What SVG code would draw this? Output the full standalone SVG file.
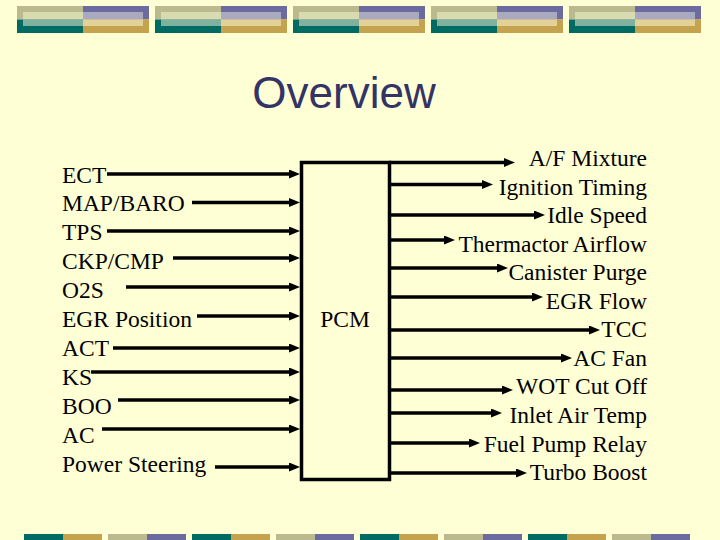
<svg xmlns="http://www.w3.org/2000/svg" width="720" height="540" viewBox="0 0 720 540">
<defs>
<style>
.t{font-family:"Liberation Serif","Times New Roman",serif;font-size:23.5px;fill:#000}
.r{text-anchor:end}
.ln{stroke:#000;stroke-width:3.5;fill:none;marker-end:url(#ah)}
.kh{fill:#BABA8E}.pu{fill:#6B6BA0}.te{fill:#006B62}.go{fill:#C5A24E}
.lkh{fill:#D8DBAF}.lpu{fill:#A9A9BF}.lte{fill:#80B09E}.lgo{fill:#E2D298}
</style>
<marker id="ah" markerUnits="userSpaceOnUse" markerWidth="12" markerHeight="10" refX="5" refY="4.5" orient="auto">
<path d="M0,0 L11,4.5 L0,9 z" fill="#000"/>
</marker>
<g id="tb">
<rect x="0" y="6" width="66" height="13.5" class="kh"/>
<rect x="66" y="6" width="66" height="13.5" class="pu"/>
<rect x="0" y="19.5" width="66" height="13.5" class="te"/>
<rect x="66" y="19.5" width="66" height="13.5" class="go"/>
<rect x="6" y="12" width="60" height="7.5" class="lkh"/>
<rect x="66" y="12" width="60" height="7.5" class="lpu"/>
<rect x="6" y="19.5" width="60" height="6.5" class="lte"/>
<rect x="66" y="19.5" width="60" height="6.5" class="lgo"/>
</g>
<g id="b1"><rect x="0" y="534" width="39" height="6" class="te"/><rect x="39" y="534" width="39" height="6" class="go"/></g>
<g id="b2"><rect x="0" y="534" width="39" height="6" class="kh"/><rect x="39" y="534" width="39" height="6" class="pu"/></g>
</defs>
<rect width="720" height="540" fill="#FFFFD6"/>
<g id="banner-top">
<use href="#tb" x="17"/><use href="#tb" x="155"/><use href="#tb" x="293"/><use href="#tb" x="431"/><use href="#tb" x="569"/>
</g>
<g id="banner-bottom">
<use href="#b1" x="24"/><use href="#b2" x="108"/><use href="#b1" x="192"/><use href="#b2" x="276"/>
<use href="#b1" x="360"/><use href="#b2" x="444"/><use href="#b1" x="528"/><use href="#b2" x="612"/>
</g>
<text id="title" x="344" y="108" text-anchor="middle" font-family="Liberation Sans, Arial, sans-serif" font-size="44" fill="#333366">Overview</text>
<g id="pcm">
<rect x="301.5" y="162.5" width="88" height="317" fill="none" stroke="#000" stroke-width="3.5"/>
<text class="t" x="345" y="327" text-anchor="middle">PCM</text>
</g>
<g id="inputs">
<text class="t" x="62" y="182.5">ECT</text>
<text class="t" x="62" y="211.4">MAP/BARO</text>
<text class="t" x="62" y="240.3">TPS</text>
<text class="t" x="62" y="269.2">CKP/CMP</text>
<text class="t" x="62" y="298.1">O2S</text>
<text class="t" x="62" y="327">EGR Position</text>
<text class="t" x="62" y="355.9">ACT</text>
<text class="t" x="62" y="384.8">KS</text>
<text class="t" x="62" y="413.7">BOO</text>
<text class="t" x="62" y="442.6">AC</text>
<text class="t" x="62" y="471.5">Power Steering</text>
</g>
<g id="outputs">
<text class="t r" x="647" y="166">A/F Mixture</text>
<text class="t r" x="647" y="194.5">Ignition Timing</text>
<text class="t r" x="647" y="223.1">Idle Speed</text>
<text class="t r" x="647" y="251.6">Thermactor Airflow</text>
<text class="t r" x="647" y="280.2">Canister Purge</text>
<text class="t r" x="647" y="308.7">EGR Flow</text>
<text class="t r" x="647" y="337.3">TCC</text>
<text class="t r" x="647" y="365.8">AC Fan</text>
<text class="t r" x="647" y="394.4">WOT Cut Off</text>
<text class="t r" x="647" y="423">Inlet Air Temp</text>
<text class="t r" x="647" y="451.5">Fuel Pump Relay</text>
<text class="t r" x="647" y="480">Turbo Boost</text>
</g>
<g id="connectors">
<line class="ln" x1="107" y1="174" x2="294" y2="174"/>
<line class="ln" x1="192" y1="202.5" x2="294" y2="202.5"/>
<line class="ln" x1="107" y1="231" x2="294" y2="231"/>
<line class="ln" x1="173" y1="258" x2="294" y2="258"/>
<line class="ln" x1="126" y1="287" x2="294" y2="287"/>
<line class="ln" x1="197" y1="316" x2="294" y2="316"/>
<line class="ln" x1="113" y1="348" x2="294" y2="348"/>
<line class="ln" x1="91" y1="372" x2="294" y2="372"/>
<line class="ln" x1="118" y1="400" x2="294" y2="400"/>
<line class="ln" x1="102" y1="429" x2="294" y2="429"/>
<line class="ln" x1="215" y1="467" x2="294" y2="467"/>
<line class="ln" x1="389" y1="162.5" x2="509" y2="162.5"/>
<line class="ln" x1="389" y1="184.5" x2="487" y2="184.5"/>
<line class="ln" x1="389" y1="215" x2="539" y2="215"/>
<line class="ln" x1="389" y1="240" x2="449" y2="240"/>
<line class="ln" x1="389" y1="268" x2="502" y2="268"/>
<line class="ln" x1="389" y1="297" x2="537" y2="297"/>
<line class="ln" x1="389" y1="330" x2="594" y2="330"/>
<line class="ln" x1="389" y1="358" x2="566" y2="358"/>
<line class="ln" x1="389" y1="390" x2="507" y2="390"/>
<line class="ln" x1="389" y1="413" x2="496" y2="413"/>
<line class="ln" x1="389" y1="443" x2="474" y2="443"/>
<line class="ln" x1="389" y1="473" x2="521" y2="473"/>
</g>
</svg>
